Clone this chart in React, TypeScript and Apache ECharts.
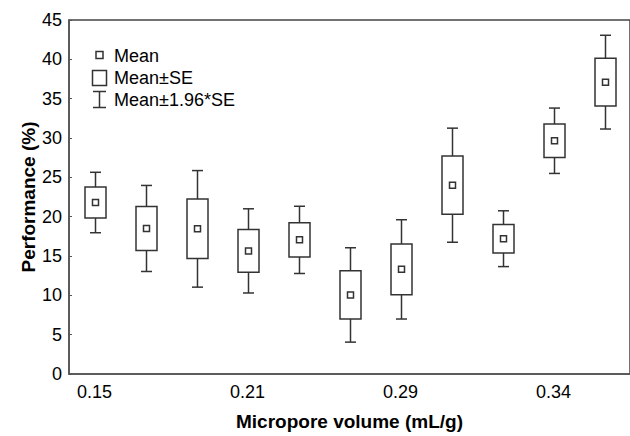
import React, { useEffect, useRef } from "react";
import * as echarts from "echarts";

const xTickLabels = ["0.15", "", "", "0.21", "", "", "0.29", "", "", "0.34", ""];
const means = [21.8, 18.5, 18.45, 15.65, 17.05, 10.05, 13.3, 24.0, 17.2, 29.65, 37.1];
const stdErrs = [1.96, 2.79, 3.78, 2.73, 2.18, 3.06, 3.22, 3.7, 1.81, 2.12, 3.04];
const ciFactor = 1.96;
const yMin = 0;
const yMax = 45;
const yStep = 5;
const legendLabels = ["Mean", "Mean\u00b1SE", "Mean\u00b11.96*SE"];

const FONT = "'Liberation Sans', Arial, sans-serif";
const LINE = "#333";
const TEXT = "#000";

export default function App() {
  const ref = useRef<HTMLDivElement>(null);
  useEffect(() => {
    if (!ref.current) return;
    const chart = echarts.init(ref.current, undefined, { renderer: "svg" });
    const data = means.map((m, i) => [i, m, stdErrs[i]]);
    const lw = 1.5;
    const option: any = {
      animation: false,
      backgroundColor: "#fff",
      grid: {
        left: 69,
        top: 20,
        width: 568,
        height: 358,
        show: true,
        borderColor: "#444",
        borderWidth: 1.5,
        containLabel: false,
      },
      xAxis: {
        type: "category",
        data: xTickLabels,
        boundaryGap: true,
        name: "Micropore volume (mL/g)",
        nameLocation: "middle",
        nameGap: 38,
        nameMoveOverlap: false,
        nameTextStyle: { fontFamily: FONT, fontSize: 19, fontWeight: "bold", color: TEXT },
        axisLine: { lineStyle: { color: "#555", width: 1.5 } },
        axisTick: { inside: true, length: 3, alignWithLabel: true, interval: 0, lineStyle: { color: "#555", width: 1 } },
        axisLabel: { interval: 0, margin: 9, fontFamily: FONT, fontSize: 18, color: TEXT },
        splitLine: { show: false },
      },
      yAxis: {
        type: "value",
        min: yMin,
        max: yMax,
        interval: yStep,
        name: "Performance (%)",
        nameLocation: "middle",
        nameGap: 31,
        nameMoveOverlap: false,
        nameTextStyle: { fontFamily: FONT, fontSize: 19, fontWeight: "bold", color: TEXT },
        axisLine: { show: true, lineStyle: { color: "#555", width: 1.5 } },
        axisTick: { show: true, inside: true, length: 3, lineStyle: { color: "#555", width: 1 } },
        axisLabel: { margin: 7, fontFamily: FONT, fontSize: 18, color: TEXT },
        splitLine: { show: false },
      },
      series: [
        {
          type: "custom",
          encode: { x: 0, y: 1 },
          data,
          renderItem: (params: any, api: any) => {
            const i = api.value(0);
            const m = api.value(1);
            const se = api.value(2);
            const c = api.coord([i, m]);
            const x = Math.round(c[0]) + 0.5;
            const yHi = api.coord([i, m + ciFactor * se])[1];
            const yLo = api.coord([i, m - ciFactor * se])[1];
            const bHi = api.coord([i, m + se])[1];
            const bLo = api.coord([i, m - se])[1];
            const ym = c[1];
            const bw = 21;
            const cw = 11;
            const mk = 6;
            const st = { stroke: LINE, lineWidth: lw, fill: "none" };
            return {
              type: "group",
              children: [
                { type: "line", shape: { x1: x, y1: yHi, x2: x, y2: yLo }, style: st },
                { type: "line", shape: { x1: x - cw / 2, y1: yHi, x2: x + cw / 2, y2: yHi }, style: st },
                { type: "line", shape: { x1: x - cw / 2, y1: yLo, x2: x + cw / 2, y2: yLo }, style: st },
                { type: "rect", shape: { x: x - bw / 2, y: bHi, width: bw, height: bLo - bHi }, style: { stroke: LINE, lineWidth: lw, fill: "#fff" } },
                { type: "rect", shape: { x: x - mk / 2, y: ym - mk / 2, width: mk, height: mk }, style: { stroke: LINE, lineWidth: lw, fill: "#fff" } },
              ],
            };
          },
        },
      ],
      graphic: [
        { type: "rect", shape: { x: 96, y: 51.5, width: 7, height: 7 }, style: { stroke: LINE, lineWidth: lw, fill: "#fff" } },
        { type: "text", x: 114, y: 55.5, style: { text: legendLabels[0], fontFamily: FONT, fontSize: 18, fill: TEXT, verticalAlign: "middle" } },
        { type: "rect", shape: { x: 92.5, y: 70.5, width: 14, height: 15 }, style: { stroke: LINE, lineWidth: lw, fill: "#fff" } },
        { type: "text", x: 114, y: 77.5, style: { text: legendLabels[1], fontFamily: FONT, fontSize: 18, fill: TEXT, verticalAlign: "middle" } },
        { type: "line", shape: { x1: 99.5, y1: 91.5, x2: 99.5, y2: 107.5 }, style: { stroke: LINE, lineWidth: lw } },
        { type: "line", shape: { x1: 93, y1: 91.5, x2: 106, y2: 91.5 }, style: { stroke: LINE, lineWidth: lw } },
        { type: "line", shape: { x1: 93, y1: 107.5, x2: 106, y2: 107.5 }, style: { stroke: LINE, lineWidth: lw } },
        { type: "text", x: 114, y: 99.5, style: { text: legendLabels[2], fontFamily: FONT, fontSize: 18, fill: TEXT, verticalAlign: "middle" } },
      ],
    };
    chart.setOption(option);
    return () => chart.dispose();
  }, []);
  return (
    <div
      ref={ref}
      style={{ position: "fixed", left: 0, top: 0, width: 630, height: 436, overflow: "hidden", background: "#fff" }}
    />
  );
}
